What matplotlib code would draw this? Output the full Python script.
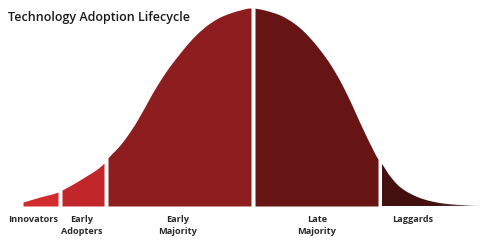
import numpy as np
import matplotlib
matplotlib.use("Agg")
import matplotlib.pyplot as plt
from matplotlib.colors import LinearSegmentedColormap

# ---- data ----
title = "Technology Adoption Lifecycle"
segments = ["Innovators", "Early\nAdopters", "Early\nMajority", "Late\nMajority", "Laggards"]
seg_start = [23, 62, 108, 255, 382]
seg_end = [58, 104, 251, 378, 480]
seg_colors = ["#d22b2e", "#c1262b", "#8e1d20", "#661414", "#430f0f"]
label_x = [33, 82, 178, 317, 413]

# bell curve outline (position, height)
curve_x = [23, 40, 58, 62, 83, 104, 107, 120, 133, 143, 153, 167, 180, 190, 200, 210, 220,
           230, 240, 250, 253, 260, 270, 280, 290, 300, 310, 320, 330, 340, 350, 360, 370,
           378, 382, 390, 400, 410, 420, 430, 440, 450, 460, 470, 480]
curve_h = [4, 9, 14, 16, 28, 43, 47, 61, 79, 96, 114, 136, 153, 165, 175, 183, 189,
           193, 196, 198, 198, 197, 194.5, 191, 185.5, 178, 168, 156, 142, 125, 105, 83, 62,
           47, 42, 30, 19, 12.5, 8, 5, 3, 1.8, 1.0, 0.5, 0.2]


def pchip(x, y, xq):
    """Monotone cubic rendering of the read outline (Fritsch-Carlson)."""
    x = np.asarray(x, float); y = np.asarray(y, float)
    h = np.diff(x); d = np.diff(y) / h
    m = np.zeros_like(y)
    for k in range(1, len(x) - 1):
        if d[k - 1] * d[k] > 0:
            w1 = 2 * h[k] + h[k - 1]; w2 = h[k] + 2 * h[k - 1]
            m[k] = (w1 + w2) / (w1 / d[k - 1] + w2 / d[k])
    m[0] = d[0]; m[-1] = d[-1]
    idx = np.clip(np.searchsorted(x, xq) - 1, 0, len(x) - 2)
    t = (xq - x[idx]) / h[idx]
    h00 = 2 * t**3 - 3 * t**2 + 1; h10 = t**3 - 2 * t**2 + t
    h01 = -2 * t**3 + 3 * t**2; h11 = t**3 - t**2
    return h00 * y[idx] + h10 * h[idx] * m[idx] + h01 * y[idx + 1] + h11 * h[idx] * m[idx + 1]


W, H = 480, 248
base = 206
fig = plt.figure(figsize=(W / 100, H / 100), dpi=100)
ax = fig.add_axes([0, (H - base) / H, 1, base / H])
ax.set_xlim(0, W)
ax.set_ylim(0, base)
ax.axis("off")

for i, (s, e, c) in enumerate(zip(seg_start, seg_end, seg_colors)):
    xs = np.linspace(s, e, 300)
    ys = pchip(curve_x, curve_h, xs)
    if i == len(segments) - 1:
        poly = ax.fill_between(xs, 0, ys, color="none", lw=0)
        cmap = LinearSegmentedColormap.from_list(
            "fade", [(0, c), (0.55, c), (0.85, "#6a4a4a"), (1, "#f4f0f0")])
        grad = np.linspace(0, 1, 256).reshape(1, -1)
        im = ax.imshow(grad, extent=[s, e, 0, base], aspect="auto", cmap=cmap,
                       origin="lower", zorder=2)
        im.set_clip_path(poly.get_paths()[0], transform=ax.transData)
    else:
        ax.fill_between(xs, 0, ys, color=c, lw=0, zorder=2)

font = "Open Sans"
fig.text(8 / W, 1 - 17 / H, title, fontsize=9.0, family=font, color="#1a1a1a",
         ha="left", va="center", fontweight="semibold")
for lx, lab in zip(label_x, segments):
    fig.text(lx / W, 1 - 215 / H, lab, fontsize=6.6, family=font, color="#2a2a2a",
             ha="center", va="top", linespacing=1.4, fontweight="bold")

fig.savefig("out.png", dpi=100)
